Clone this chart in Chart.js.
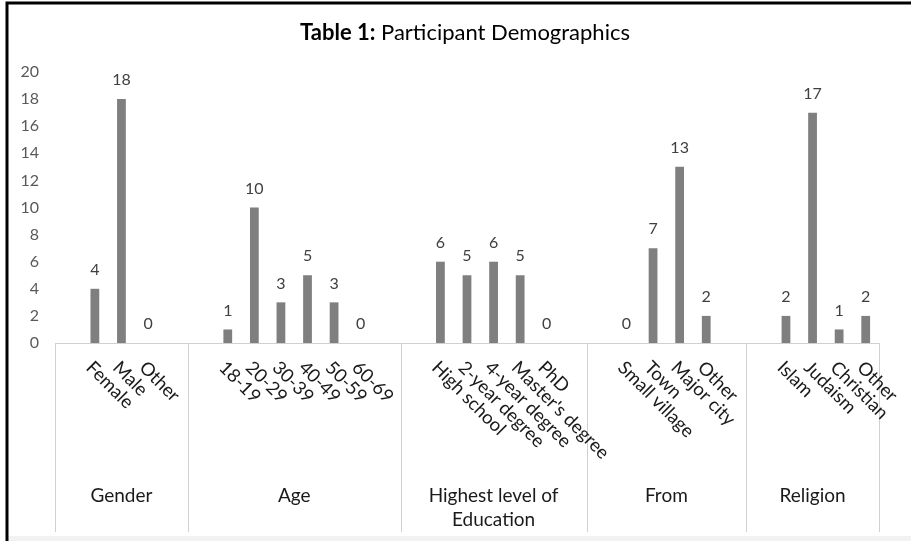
<!DOCTYPE html>
<html>
<head>
<meta charset="utf-8">
<script src="https://cdn.jsdelivr.net/npm/chart.js@4.4.0/dist/chart.umd.min.js"></script>
<style>
  html, body { margin: 0; padding: 0; background: #fff; }
  #wrap { position: relative; width: 911px; height: 541px; overflow: hidden; }
  #c { position: absolute; left: 0; top: 0; }
  #title {
    position: absolute; left: 0; width: 930px; top: 20px;
    text-align: center; font: 22px Lato, sans-serif; line-height: 24px; color: #000;
  }
</style>
</head>
<body>
<div id="wrap">
  <canvas id="c" width="911" height="541"></canvas>
  <div id="title"><b>Table 1:</b> Participant Demographics</div>
</div>
<script>
// ---- data ----
const genderLabels = ["Female", "Male", "Other"];
const genderValues = [4, 18, 0];
const ageLabels = ["18-19", "20-29", "30-39", "40-49", "50-59", "60-69"];
const ageValues = [1, 10, 3, 5, 3, 0];
const educationLabels = ["High school", "2-year degree", "4-year degree", "Master's degree", "PhD"];
const educationValues = [6, 5, 6, 5, 0];
const fromLabels = ["Small village", "Town", "Major city", "Other"];
const fromValues = [0, 7, 13, 2];
const religionLabels = ["Islam", "Judaism", "Christian", "Other"];
const religionValues = [2, 17, 1, 2];
const groupNames = [["Gender"], ["Age"], ["Highest level of", "Education"], ["From"], ["Religion"]];
const yMin = 0, yMax = 20, yStep = 2;

// ---- build the flat category list: each group padded with empty rows ----
const groupItems = [
  [genderLabels, genderValues],
  [ageLabels, ageValues],
  [educationLabels, educationValues],
  [fromLabels, fromValues],
  [religionLabels, religionValues]
];
const labels = [];
const values = [];
const groupStart = [];
groupItems.forEach(([labs, vals], g) => {
  groupStart.push(labels.length);
  labels.push(""); values.push(null);
  labs.forEach((l, i) => { labels.push(l); values.push(vals[i]); });
  if (g < groupItems.length - 1) { labels.push(""); values.push(null); }
});
groupStart.push(labels.length);

const FONT = "Lato, sans-serif";

const multiAxis = {
  id: "multiAxis",
  beforeDraw(chart) {
    const ctx = chart.ctx;
    ctx.save();
    ctx.fillStyle = "#f2f2f2";
    ctx.fillRect(8, 536, 911, 10);
    ctx.strokeStyle = "#000";
    ctx.lineWidth = 3;
    ctx.beginPath();
    ctx.moveTo(7, 1.5); ctx.lineTo(7, 541);
    ctx.moveTo(5.5, 3); ctx.lineTo(911, 3);
    ctx.stroke();
    ctx.restore();
  },
  afterDatasetsDraw(chart) {
    const { ctx } = chart;
    const x = chart.scales.x, y = chart.scales.y;
    const axisY = y.getPixelForValue(0);
    const step = x.getPixelForValue(1) - x.getPixelForValue(0);
    const edge = i => x.getPixelForValue(i) - step / 2;
    const bottom = 532;
    ctx.save();

    // axis line and group separators
    ctx.strokeStyle = "#d0d0d0";
    ctx.lineWidth = 1;
    ctx.beginPath();
    ctx.moveTo(edge(0), Math.round(axisY) + 0.5);
    ctx.lineTo(edge(labels.length), Math.round(axisY) + 0.5);
    groupStart.forEach(i => {
      const px = Math.round(edge(i)) + 0.5;
      ctx.moveTo(px, axisY); ctx.lineTo(px, bottom);
    });
    ctx.stroke();

    // value labels over the bars
    const meta = chart.getDatasetMeta(0);
    ctx.font = "16px " + FONT;
    ctx.fillStyle = "#404040";
    ctx.textAlign = "center";
    ctx.textBaseline = "middle";
    meta.data.forEach((bar, i) => {
      if (values[i] === null) return;
      ctx.fillText(String(values[i]), bar.x, bar.y - 19);
    });

    // slanted category labels
    ctx.font = "18.5px " + FONT;
    ctx.fillStyle = "#1a1a1a";
    ctx.textAlign = "left";
    ctx.textBaseline = "top";
    labels.forEach((l, i) => {
      if (!l) return;
      const cx = x.getPixelForValue(i);
      ctx.save();
      ctx.translate(cx + 1, axisY + 15);
      ctx.rotate(Math.PI / 4);
      ctx.fillText(l, 0, 0);
      ctx.restore();
    });

    // group labels
    ctx.font = "19px " + FONT;
    ctx.textAlign = "center";
    ctx.textBaseline = "middle";
    groupNames.forEach((lines, g) => {
      const mid = (edge(groupStart[g]) + edge(groupStart[g + 1])) / 2;
      lines.forEach((t, k) => ctx.fillText(t, mid, 496 + k * 24));
    });
    ctx.restore();
  }
};

new Chart(document.getElementById("c"), {
  type: "bar",
  data: {
    labels: labels,
    datasets: [{
      data: values,
      backgroundColor: "#7f7f7f",
      categoryPercentage: 1,
      barPercentage: 0.33
    }]
  },
  options: {
    responsive: false,
    animation: false,
    layout: { padding: { left: 0, top: 72, right: 32, bottom: 198 } },
    plugins: { legend: { display: false }, tooltip: { enabled: false }, title: { display: false } },
    scales: {
      x: {
        grid: { display: false, drawTicks: false },
        border: { display: false },
        ticks: { display: false },
        afterFit: s => { s.height = 0; }
      },
      y: {
        min: yMin, max: yMax,
        grid: { display: false, drawTicks: false },
        border: { display: false },
        ticks: { stepSize: yStep, padding: 16, color: "#595959", font: { family: FONT, size: 16 } },
        afterFit: s => { s.width = 55; }
      }
    }
  },
  plugins: [multiAxis]
});
</script>
</body>
</html>
